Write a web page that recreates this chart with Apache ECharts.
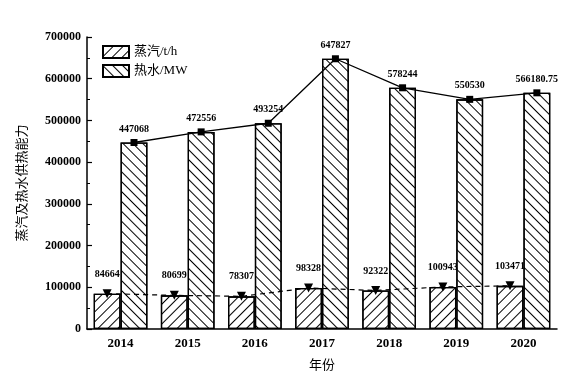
<!DOCTYPE html>
<html><head><meta charset="utf-8">
<script src="https://cdn.jsdelivr.net/npm/echarts@6/dist/echarts.min.js"></script>
<style>html,body{margin:0;padding:0;background:#fff}#c{width:574px;height:379px}</style>
</head><body><div id="c"></div>
<script>
const years = ['2014','2015','2016','2017','2018','2019','2020'];
const steam = [84664, 80699, 78307, 98328, 92322, 100943, 103471];
const water = [447068, 472556, 493254, 647827, 578244, 550530, 566180.75];
const yTicks = {min: 0, max: 700000, interval: 100000};
const seriesNames = ['蒸汽/t/h', '热水/MW'];

const FONT = '"Liberation Serif", "Noto Sans CJK SC", serif';
const off = 0.2;
const chart = echarts.init(document.getElementById('c'));
chart.setOption({
  animation: false,
  grid: {left: 87, right: 17, top: 37, bottom: 50},
  legend: {
    data: seriesNames.map(n => ({name: n, icon: 'rect'})), orient: 'vertical', left: 97, top: 40,
    itemWidth: 26, itemHeight: 12, itemGap: 5,
    textStyle: {fontFamily: FONT, fontSize: 13, color: '#000'}
  },
  xAxis: [{
    type: 'category', data: years,
    name: '年份', nameLocation: 'middle', nameGap: 30,
    nameTextStyle: {fontFamily: FONT, fontSize: 13, color: '#000'},
    axisLine: {lineStyle: {color: '#000', width: 1.5}},
    axisTick: {show: false},
    axisLabel: {fontFamily: FONT, fontSize: 13, color: '#000', fontWeight: 'bold', margin: 8}
  }, {
    type: 'value', min: -0.5, max: 6.5, show: false
  }],
  yAxis: {
    type: 'value', min: yTicks.min, max: yTicks.max, interval: yTicks.interval,
    name: '蒸汽及热水供热能力', nameLocation: 'middle', nameGap: 58,
    nameTextStyle: {fontFamily: FONT, fontSize: 13, color: '#000'},
    axisLine: {show: true, onZero: false, lineStyle: {color: '#000', width: 1.5}},
    axisTick: {show: true, inside: true, length: 5, lineStyle: {color: '#000', width: 1.2}},
    minorTick: {show: true, splitNumber: 2, length: 3, lineStyle: {color: '#000'}},
    splitLine: {show: false},
    axisLabel: {fontFamily: FONT, fontSize: 12, color: '#000', fontWeight: 'bold', margin: 6,
      formatter: v => String(v)}
  },
  series: [{
    name: seriesNames[0], type: 'bar', data: steam, barGap: '0%', barCategoryGap: '20%',
    itemStyle: {color: '#fff', borderColor: '#000', borderWidth: 1.3,
      decal: {symbol: 'rect', color: '#000', dashArrayX: [1, 0], dashArrayY: [1, 6], rotation: -Math.PI/4}}
  }, {
    name: seriesNames[1], type: 'bar', data: water,
    itemStyle: {color: '#fff', borderColor: '#000', borderWidth: 1.3,
      decal: {symbol: 'rect', color: '#000', dashArrayX: [1, 0], dashArrayY: [1, 6], rotation: Math.PI/4}}
  }, {
    name: 'steamLine', type: 'line', xAxisIndex: 1, z: 5,
    data: steam.map((v, i) => [i - off, v]),
    lineStyle: {color: '#000', width: 1.2, type: [5, 4]},
    symbol: 'triangle', symbolRotate: 180, symbolSize: 9,
    itemStyle: {color: '#000'},
    label: {show: true, position: 'top', distance: 10, fontFamily: FONT, fontSize: 10, fontWeight: 'bold', color: '#000'}
  }, {
    name: 'waterLine', type: 'line', xAxisIndex: 1, z: 5,
    data: water.map((v, i) => [i + off, v]),
    lineStyle: {color: '#000', width: 1.3},
    symbol: 'rect', symbolSize: 7,
    itemStyle: {color: '#000'},
    label: {show: true, position: 'top', distance: 5, fontFamily: FONT, fontSize: 10, fontWeight: 'bold', color: '#000'}
  }]
});
</script></body></html>
